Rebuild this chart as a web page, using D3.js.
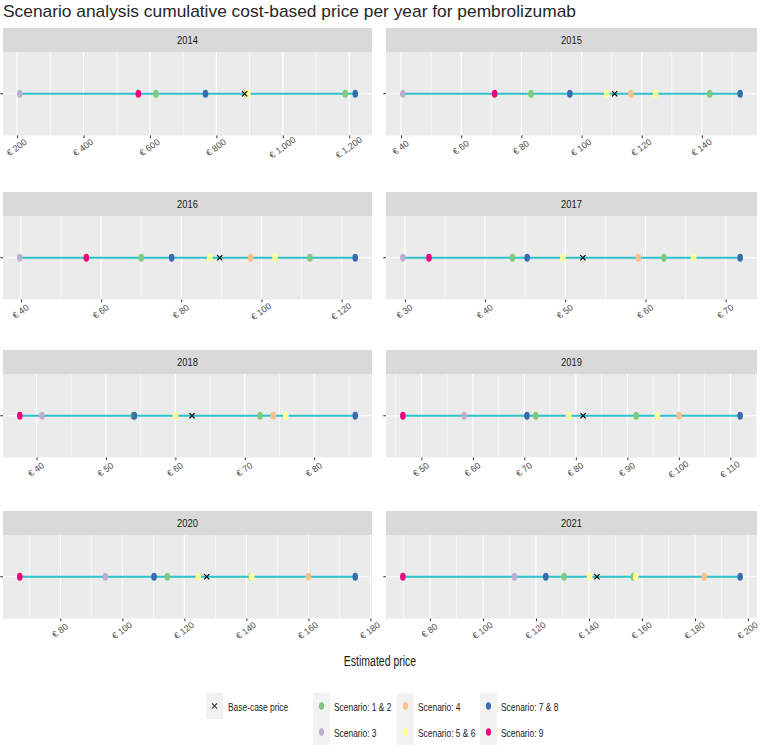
<!DOCTYPE html>
<html>
<head>
<meta charset="utf-8">
<script src="https://cdn.jsdelivr.net/npm/d3@7"></script>
<style>
  html, body { margin: 0; padding: 0; background: #fff; }
  svg { display: block; }
  text { font-family: "Liberation Sans", Arial, Helvetica, sans-serif; }
</style>
</head>
<body>
<svg id="chart" width="762" height="745"></svg>
<script>
// ---- data ----
const years = ["2014", "2015", "2016", "2017", "2018", "2019", "2020", "2021"];
const baseCase = [885, 111.0, 89.6, 52.2, 62.4, 81.4, 127.2, 143.0];
const scenario12 = [[618, 1188], [83.2, 142.6], [70.0, 112.1], [43.4, 62.3], [53.9, 72.2], [72.2, 91.7], [114.5, 141.5], [130.6, 156.7]];
const scenario3 = [208, 40.6, 39.7, 29.75, 40.8, 58.3, 94.5, 111.9];
const scenario4 = [889, 116.4, 97.3, 59.1, 74.1, 100.0, 160.0, 183.5];
const scenario56 = [[892, 895], [108.4, 124.6], [87.1, 103.4], [49.7, 66.0], [60.0, 75.9], [78.6, 95.8], [124.5, 141.7], [140.2, 157.6]];
const scenario78 = [[767, 1218], [96.1, 152.7], [77.6, 123.4], [45.25, 71.8], [54.1, 85.9], [70.5, 111.9], [110.2, 175.1], [123.7, 197.0]];
const scenario9 = [565, 71.1, 56.3, 33.0, 37.6, 46.4, 66.9, 69.8];
const majorTicks = [
  [200, 400, 600, 800, 1000, 1200],
  [40, 60, 80, 100, 120, 140],
  [40, 60, 80, 100, 120],
  [30, 40, 50, 60, 70],
  [40, 50, 60, 70, 80],
  [50, 60, 70, 80, 90, 100, 110],
  [80, 100, 120, 140, 160, 180],
  [80, 100, 120, 140, 160, 180, 200]
];
const scenarioNames = ["Scenario: 1 & 2", "Scenario: 3", "Scenario: 4", "Scenario: 5 & 6", "Scenario: 7 & 8", "Scenario: 9"];
const scenarioColors = ["#7fc97f", "#beaed4", "#fdc086", "#ffff99", "#386cb0", "#f0027f"];
const scenarioValues = [scenario12, scenario3, scenario4, scenario56, scenario78, scenario9];

// ---- helpers ----
function condense(sel, sx) {
  sel.each(function () {
    const w = this.getComputedTextLength();
    d3.select(this).attr("textLength", w * sx).attr("lengthAdjust", "spacingAndGlyphs");
  });
}

// ---- layout ----
const svg = d3.select("#chart");
const colX = [[3, 372], [386, 757]];
const rowTop = [28, 192, 350, 511];
const stripH = 24, panelH = 83.5;
const fmt = v => "\u20AC " + d3.format(",")(v);
const lineColor = "#2cc2c8";

svg.append("text").attr("x", 3).attr("y", 16.5).attr("font-size", 17).attr("fill", "#262626")
  .attr("textLength", 573).attr("lengthAdjust", "spacingAndGlyphs")
  .text("Scenario analysis cumulative cost-based price per year for pembrolizumab");

years.forEach((yr, i) => {
  const c = i % 2, r = Math.floor(i / 2);
  const [x0, x1] = colX[c];
  const sTop = rowTop[r];
  const pTop = sTop + stripH, pBot = pTop + panelH;
  const yc = (pTop + pBot) / 2;

  const pts = [];
  scenarioValues.forEach((arr, k) => {
    const v = arr[i];
    (Array.isArray(v) ? v : [v]).forEach(val => pts.push({ val, color: scenarioColors[k] }));
  });
  const allVals = pts.map(p => p.val).concat([baseCase[i]]);
  const mn = d3.min(allVals), mx = d3.max(allVals), rg = mx - mn;
  const x = d3.scaleLinear().domain([mn - 0.05 * rg, mx + 0.05 * rg]).range([x0, x1]);

  const g = svg.append("g");
  g.append("rect").attr("x", x0).attr("y", sTop).attr("width", x1 - x0).attr("height", stripH).attr("fill", "#d9d9d9");
  g.append("text").attr("x", (x0 + x1) / 2).attr("y", sTop + stripH / 2 + 4).attr("text-anchor", "middle")
    .attr("font-size", 11).attr("fill", "#1a1a1a").text(yr).call(condense, 0.85);
  g.append("rect").attr("x", x0).attr("y", pTop).attr("width", x1 - x0).attr("height", panelH).attr("fill", "#ebebeb");
  const mt = majorTicks[i];
  const step = mt[1] - mt[0];
  const minor = [];
  for (let v = mt[0] - step / 2; v <= x.domain()[1]; v += step) if (v >= x.domain()[0]) minor.push(v);
  g.selectAll(".minor").data(minor).join("line")
    .attr("x1", d => x(d)).attr("x2", d => x(d)).attr("y1", pTop).attr("y2", pBot)
    .attr("stroke", "#fff").attr("stroke-width", 0.6);
  g.selectAll(".major").data(mt).join("line")
    .attr("x1", d => x(d)).attr("x2", d => x(d)).attr("y1", pTop).attr("y2", pBot)
    .attr("stroke", "#fff").attr("stroke-width", 1.2);
  g.append("line").attr("x1", x0).attr("x2", x1).attr("y1", yc).attr("y2", yc).attr("stroke", "#fff").attr("stroke-width", 1.2);

  const ax = g.append("g").attr("transform", `translate(0,${pBot})`)
    .call(d3.axisBottom(x).tickValues(mt).tickFormat(fmt).tickSize(2.75).tickSizeOuter(0));
  ax.select(".domain").remove();
  ax.selectAll(".tick line").attr("stroke", "#333");
  ax.selectAll(".tick text").attr("fill", "#4d4d4d").attr("font-size", 9)
    .attr("text-anchor", "middle").attr("dy", null).attr("y", null)
    .attr("transform", "translate(-0.5,12.5) rotate(-36)").attr("dominant-baseline", "middle")
    .style("font-family", '"Liberation Sans", Arial, sans-serif');

  g.append("line").attr("x1", x0 - 2.75).attr("x2", x0).attr("y1", yc).attr("y2", yc).attr("stroke", "#333").attr("stroke-width", 1);

  g.append("line").attr("x1", x(d3.min(pts, p => p.val))).attr("x2", x(d3.max(pts, p => p.val)))
    .attr("y1", yc).attr("y2", yc).attr("stroke", lineColor).attr("stroke-width", 2.2);

  g.selectAll(".pt").data(pts).join("ellipse")
    .attr("cx", d => x(d.val)).attr("cy", yc).attr("rx", 2.8).attr("ry", 4.1).attr("fill", d => d.color);

  const bx = x(baseCase[i]), s = 2.6;
  g.append("path").attr("d", `M${bx - s},${yc - s}L${bx + s},${yc + s}M${bx - s},${yc + s}L${bx + s},${yc - s}`)
    .attr("stroke", "#000").attr("stroke-width", 1.2);
});

svg.append("text").attr("x", 380).attr("y", 666).attr("text-anchor", "middle").attr("font-size", 14).attr("fill", "#1a1a1a")
  .text("Estimated price").call(condense, 0.75);

const lg = svg.append("g");
lg.append("rect").attr("x", 206).attr("y", 693).attr("width", 17).attr("height", 26).attr("fill", "#f2f2f2");
const lx = 214.5, ly = 706, ls = 2.6;
lg.append("path").attr("d", `M${lx - ls},${ly - ls}L${lx + ls},${ly + ls}M${lx - ls},${ly + ls}L${lx + ls},${ly - ls}`)
  .attr("stroke", "#333").attr("stroke-width", 1.1);
lg.append("text").attr("x", 228).attr("y", 710.5).attr("font-size", 11.5).attr("fill", "#1a1a1a")
  .text("Base-case price").call(condense, 0.73);

const keyCols = [313, 397, 480];
scenarioNames.forEach((name, k) => {
  const col = Math.floor(k / 2), row = k % 2;
  const kx = keyCols[col], ky = 693 + row * 26;
  lg.append("rect").attr("x", kx).attr("y", ky).attr("width", 17).attr("height", 26).attr("fill", "#f2f2f2");
  lg.append("ellipse").attr("cx", kx + 8.5).attr("cy", ky + 13).attr("rx", 2.6).attr("ry", 3.8).attr("fill", scenarioColors[k]);
  lg.append("text").attr("x", kx + 21).attr("y", ky + 17.5).attr("font-size", 11.5).attr("fill", "#1a1a1a")
    .text(name).call(condense, 0.73);
});
</script>
</body>
</html>
